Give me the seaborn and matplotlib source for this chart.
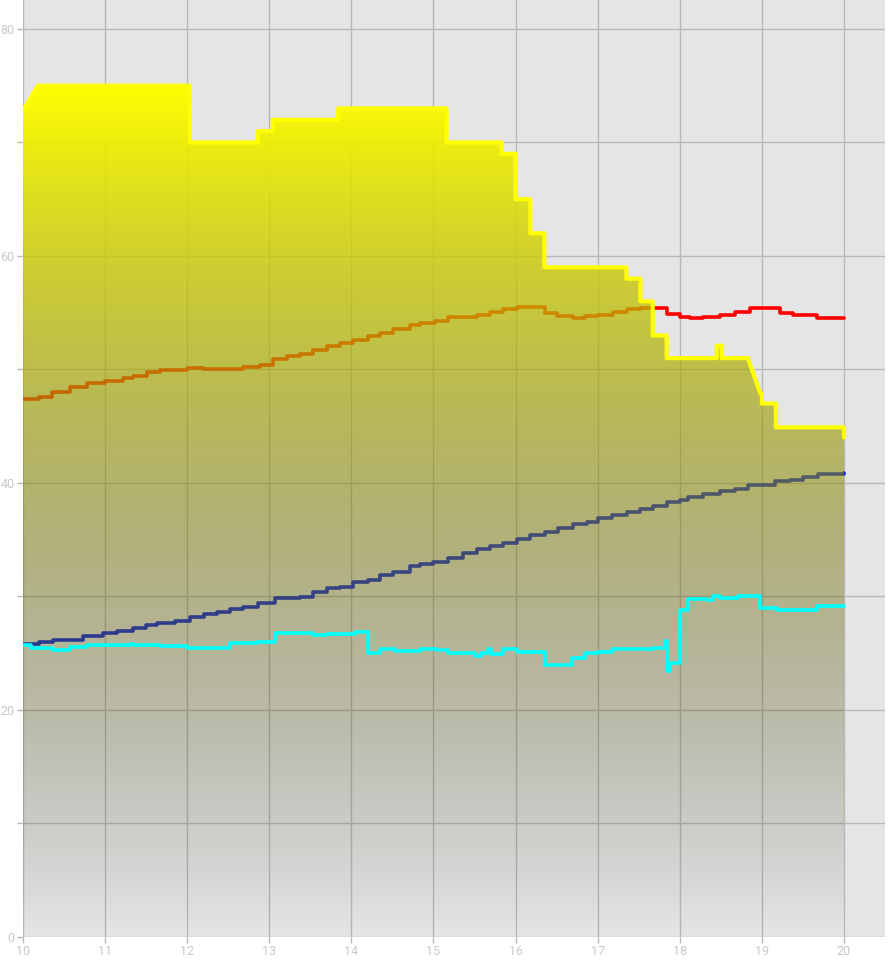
import numpy as np
import matplotlib
matplotlib.use("Agg")
import matplotlib.pyplot as plt
import seaborn as sns

# yellow area (outline with vertical drops)
yel_x = [10.0, 10.18, 12.03, 12.03, 12.86, 12.86, 13.04, 13.04, 13.84, 13.84, 15.16, 15.16,
         15.83, 15.83, 16.0, 16.0, 16.18, 16.18, 16.35, 16.35, 17.35, 17.35, 17.52, 17.52,
         17.67, 17.67, 17.84, 17.84, 18.45, 18.45, 18.51, 18.51, 18.83, 18.98, 19.0, 19.0,
         19.17, 19.17, 20.0, 20.0]
yel_y = [72.8, 75.0, 75.0, 70.0, 70.0, 71.0, 71.0, 72.0, 72.0, 73.0, 73.0, 70.0,
         70.0, 69.0, 69.0, 65.0, 65.0, 62.0, 62.0, 59.0, 59.0, 58.0, 58.0, 56.0,
         56.0, 53.0, 53.0, 51.0, 51.0, 52.1, 52.1, 51.0, 51.0, 47.9, 47.9, 47.0,
         47.0, 44.9, 44.9, 44.0]

red_x = [10.0, 10.2, 10.35, 10.57, 10.78, 11.0, 11.22, 11.34, 11.51, 11.67, 12.0, 12.19,
         12.68, 12.89, 13.05, 13.21, 13.37, 13.53, 13.70, 13.86, 14.02, 14.2, 14.35, 14.51,
         14.71, 14.84, 15.02, 15.18, 15.53, 15.69, 15.85, 16.02, 16.36, 16.50, 16.70, 16.85,
         17.0, 17.19, 17.36, 17.52, 17.84, 18.0, 18.12, 18.28, 18.49, 18.67, 18.85, 19.22,
         19.38, 19.67, 20.0]
red_y = [47.4, 47.6, 48.0, 48.45, 48.8, 49.0, 49.25, 49.4, 49.8, 49.95, 50.1, 50.0,
         50.2, 50.4, 50.9, 51.2, 51.35, 51.7, 52.1, 52.35, 52.6, 52.95, 53.2, 53.6,
         53.9, 54.1, 54.3, 54.6, 54.8, 55.05, 55.3, 55.5, 55.0, 54.7, 54.55, 54.7,
         54.8, 55.1, 55.3, 55.4, 54.9, 54.65, 54.5, 54.6, 54.8, 55.1, 55.4, 55.0,
         54.8, 54.55, 54.5]

blue_x = [10.0, 10.2, 10.37, 10.73, 10.97, 11.15, 11.34, 11.5, 11.63, 11.85, 12.03, 12.2,
          12.36, 12.52, 12.68, 12.86, 13.07, 13.37, 13.53, 13.70, 13.86, 14.02, 14.2, 14.35,
          14.51, 14.71, 14.84, 14.99, 15.18, 15.36, 15.53, 15.69, 15.85, 16.02, 16.18, 16.36,
          16.52, 16.70, 16.87, 17.0, 17.17, 17.36, 17.52, 17.67, 17.84, 18.0, 18.1, 18.28,
          18.49, 18.67, 18.83, 19.16, 19.34, 19.5, 19.68, 20.0]
blue_y = [25.8, 26.0, 26.15, 26.5, 26.8, 27.0, 27.2, 27.45, 27.65, 27.8, 28.2, 28.45,
          28.65, 28.9, 29.1, 29.45, 29.85, 29.95, 30.4, 30.75, 30.85, 31.3, 31.45, 31.9,
          32.15, 32.7, 32.85, 33.0, 33.4, 33.85, 34.2, 34.45, 34.7, 35.05, 35.4, 35.7,
          36.05, 36.4, 36.55, 36.9, 37.15, 37.45, 37.75, 37.95, 38.3, 38.5, 38.8, 39.0,
          39.3, 39.5, 39.8, 40.2, 40.3, 40.5, 40.8, 40.85]

cyan_x = [10.0, 10.1, 10.37, 10.57, 10.78, 11.3, 11.34, 11.67, 12.0, 12.52, 12.85, 13.07,
          13.53, 13.7, 14.04, 14.2, 14.35, 14.53, 14.84, 15.04, 15.18, 15.5, 15.58, 15.66,
          15.7, 15.85, 16.02, 16.36, 16.69, 16.85, 17.0, 17.17, 17.37, 17.67, 17.82, 17.85,
          17.88, 18.0, 18.1, 18.33, 18.4, 18.49, 18.71, 18.85, 18.98, 19.18, 19.67, 20.0]
cyan_y = [25.7, 25.45, 25.3, 25.55, 25.7, 25.85, 25.7, 25.6, 25.5, 25.9, 26.0, 26.8,
          26.6, 26.7, 26.85, 25.0, 25.4, 25.2, 25.35, 25.3, 25.0, 24.8, 25.0, 25.35,
          24.9, 25.35, 25.1, 23.95, 24.6, 25.0, 25.1, 25.35, 25.4, 25.5, 26.1, 23.4,
          24.1, 28.8, 29.75, 29.65, 30.0, 29.85, 30.0, 30.0, 29.0, 28.8, 29.15, 29.15]

sns.set_style("whitegrid", {"axes.facecolor": "#e5e5e5", "grid.color": "#b8b8b8"})
plt.rcParams["font.family"] = ["Roboto", "DejaVu Sans"]

fig = plt.figure(figsize=(8.88, 9.73), dpi=100)
ax = fig.add_axes([23 / 888, 36 / 973, 862 / 888, 937 / 973])
ax.set_axisbelow(True)

# lines that sit under the gradient
sns.lineplot(x=red_x, y=red_y, color="#ff0000", lw=2.6, drawstyle="steps-post",
             estimator=None, sort=False, ax=ax, zorder=2)
sns.lineplot(x=blue_x, y=blue_y, color="#1428dc", lw=2.6, drawstyle="steps-post",
             estimator=None, sort=False, ax=ax, zorder=2)

# gradient fill: yellow opaque at the top, fading to transparent at zero
poly = ax.fill_between(yel_x, 0, yel_y, facecolor="none", edgecolor="none")
top = max(yel_y)
t = np.linspace(0, 1, 400)
grad = np.zeros((400, 1, 4))
grad[:, 0, 0] = t
grad[:, 0, 1] = t
grad[:, 0, 3] = t
img = ax.imshow(grad, origin="lower", extent=[10, 20, 0, top], aspect="auto",
                zorder=2.5, interpolation="bilinear")
img.set_clip_path(poly.get_paths()[0], transform=ax.transData)

sns.lineplot(x=yel_x, y=yel_y, color="#ffff00", lw=3.0, estimator=None, sort=False,
             ax=ax, zorder=3)
sns.lineplot(x=cyan_x, y=cyan_y, color="#00ffff", lw=2.6, drawstyle="steps-post",
             estimator=None, sort=False, ax=ax, zorder=4)

ax.set_xlim(10, 20.5)
ax.set_ylim(0, 82.55)
ax.set_xticks(range(10, 21))
ax.set_yticks(range(0, 81, 10))
ax.set_yticklabels([str(v) if v % 20 == 0 else "" for v in range(0, 81, 10)])
ax.grid(True, color="#b8b8b8", lw=1.0)
for s in ax.spines.values():
    s.set_visible(False)
ax.tick_params(axis="both", colors="#b8b8b8", labelcolor="#c8c8c8", labelsize=9,
               length=4, width=1, pad=2, left=True, bottom=True)
ax.set_xlabel("")
ax.set_ylabel("")

fig.savefig("out.png", dpi=100, facecolor="white")
